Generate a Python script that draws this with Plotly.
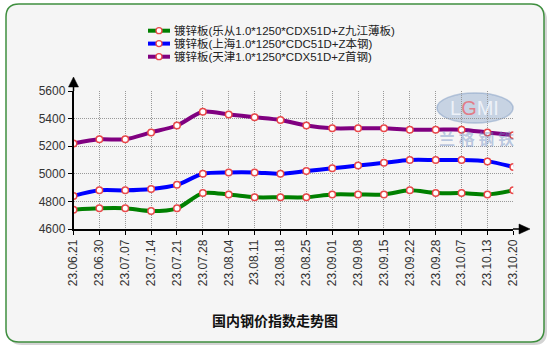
import plotly.graph_objects as go

W, H = 551, 351

dates = ["23.06.21", "23.06.30", "23.07.07", "23.07.14", "23.07.21", "23.07.28",
         "23.08.04", "23.08.11", "23.08.18", "23.08.25", "23.09.01", "23.09.08",
         "23.09.15", "23.09.22", "23.09.28", "23.10.07", "23.10.13", "23.10.20"]

lecong = [4740, 4750, 4750, 4730, 4750, 4860, 4850, 4830, 4830, 4830, 4850, 4850,
          4850, 4880, 4860, 4860, 4850, 4880]
shanghai = [4840, 4880, 4880, 4890, 4920, 5000, 5010, 5010, 5000, 5020, 5040, 5060,
            5080, 5100, 5100, 5100, 5090, 5050]
tianjin = [5220, 5250, 5250, 5300, 5350, 5450, 5430, 5410, 5390, 5350, 5330, 5330,
           5330, 5320, 5320, 5320, 5300, 5280]

names = ["镀锌板(乐从1.0*1250*CDX51D+Z九江薄板)",
         "镀锌板(上海1.0*1250*CDC51D+Z本钢)",
         "镀锌板(天津1.0*1250*CDX51D+Z首钢)"]
colors = ["#008000", "#0000FF", "#800080"]
series = [lecong, shanghai, tianjin]

yticks = [4600, 4800, 5000, 5200, 5400, 5600]
title_text = "国内钢价指数走势图"


def px(x):
    return x / W


def py(y):
    return 1 - y / H


def rrect(x0, y0, x1, y1, r):
    pts = [
        f"M {px(x0 + r)},{py(y0)}",
        f"L {px(x1 - r)},{py(y0)}",
        f"Q {px(x1)},{py(y0)} {px(x1)},{py(y0 + r)}",
        f"L {px(x1)},{py(y1 - r)}",
        f"Q {px(x1)},{py(y1)} {px(x1 - r)},{py(y1)}",
        f"L {px(x0 + r)},{py(y1)}",
        f"Q {px(x0)},{py(y1)} {px(x0)},{py(y1 - r)}",
        f"L {px(x0)},{py(y0 + r)}",
        f"Q {px(x0)},{py(y0)} {px(x0 + r)},{py(y0)}",
        "Z",
    ]
    return " ".join(pts)


fig = go.Figure()

for name, vals, col in zip(names, series, colors):
    fig.add_trace(go.Scatter(
        x=dates, y=vals, name=name, mode="lines+markers",
        line=dict(color=col, width=4, shape="spline", smoothing=0.8),
        marker=dict(symbol="circle", size=6.5, color="white",
                    line=dict(color="#E8484A", width=1.5)),
        showlegend=False,
    ))

shapes = []
# shadow + frame
shapes.append(dict(type="path", xref="paper", yref="paper", layer="below",
                   path=rrect(9, 7, 547, 345, 13), fillcolor="#d4d4d4",
                   line=dict(width=0)))
shapes.append(dict(type="path", xref="paper", yref="paper", layer="below",
                   path=rrect(6, 4, 544, 342, 13), fillcolor="#F5F5F5",
                   line=dict(color="#3f8f3f", width=1.5)))
# watermark ellipse
shapes.append(dict(type="circle", xref="paper", yref="paper", layer="below",
                   x0=px(437), x1=px(513), y0=py(123), y1=py(93),
                   fillcolor="rgba(160,182,212,0.55)",
                   line=dict(color="rgba(140,165,200,0.6)", width=1.5)))
# axis extensions and arrows
x_axis_y = 229
y_axis_x = 73.5
shapes.append(dict(type="line", xref="paper", yref="paper",
                   x0=px(513), x1=px(520), y0=py(x_axis_y), y1=py(x_axis_y),
                   line=dict(color="black", width=1.5)))
shapes.append(dict(type="path", xref="paper", yref="paper",
                   path=f"M {px(519)},{py(x_axis_y - 5)} L {px(530)},{py(x_axis_y)} "
                        f"L {px(519)},{py(x_axis_y + 5)} Z",
                   fillcolor="black", line=dict(color="black", width=0.5)))
shapes.append(dict(type="line", xref="paper", yref="paper",
                   x0=px(y_axis_x), x1=px(y_axis_x), y0=py(91), y1=py(86),
                   line=dict(color="black", width=1.5)))
shapes.append(dict(type="path", xref="paper", yref="paper",
                   path=f"M {px(y_axis_x - 5)},{py(87)} L {px(y_axis_x)},{py(77)} "
                        f"L {px(y_axis_x + 5)},{py(87)} Z",
                   fillcolor="black", line=dict(color="black", width=0.5)))

annotations = []
# legend (manual, compact)
leg_y = [30.7, 43.6, 56.7]
for name, col, ly in zip(names, colors, leg_y):
    shapes.append(dict(type="line", xref="paper", yref="paper",
                       x0=px(148), x1=px(170), y0=py(ly), y1=py(ly),
                       line=dict(color=col, width=4)))
    shapes.append(dict(type="circle", xref="paper", yref="paper",
                       x0=px(156), x1=px(162), y0=py(ly + 3), y1=py(ly - 3),
                       fillcolor="white", line=dict(color="#E8484A", width=1.3)))
    annotations.append(dict(xref="paper", yref="paper", x=px(172), y=py(ly),
                            xanchor="left", yanchor="middle", showarrow=False,
                            text=name,
                            font=dict(size=11.5, color="#222222",
                                      family="Liberation Sans, Noto Sans CJK SC")))

# watermark text
annotations.append(dict(xref="paper", yref="paper", x=px(475), y=py(108),
                        xanchor="center", yanchor="middle", showarrow=False,
                        text="L<span style='color:rgba(230,110,120,0.9)'>G</span>MI",
                        font=dict(size=20, color="rgba(240,244,250,0.95)",
                                  family="Liberation Sans")))
annotations.append(dict(xref="paper", yref="paper", x=px(476), y=py(138),
                        xanchor="center", yanchor="middle", showarrow=False,
                        text="<b>兰 格 钢 铁</b>",
                        font=dict(size=16, color="rgba(110,140,195,0.45)",
                                  family="Noto Sans CJK SC")))
# title
annotations.append(dict(xref="paper", yref="paper", x=px(275), y=py(320),
                        xanchor="center", yanchor="middle", showarrow=False,
                        text=f"<b>{title_text}</b>",
                        font=dict(size=14, color="#111111", family="Noto Sans CJK SC")))

grid_style = dict(showgrid=True, gridcolor="#999999", griddash="1px,1px", gridwidth=1)

fig.update_layout(
    width=W, height=H,
    margin=dict(l=0, r=0, t=0, b=0, autoexpand=False),
    paper_bgcolor="white",
    plot_bgcolor="rgba(0,0,0,0)",
    shapes=shapes,
    annotations=annotations,
    xaxis=dict(
        domain=[px(73.5), px(513.3)],
        type="category", range=[0, 17],
        automargin=False,
        showline=True, linecolor="black", linewidth=1.5,
        ticks="outside", ticklen=4, tickcolor="black", tickwidth=1,
        tickangle=-90,
        tickfont=dict(size=12, color="#333333", family="Liberation Sans"),
        zeroline=False, fixedrange=True,
        **grid_style,
    ),
    yaxis=dict(
        domain=[py(229), py(91)],
        range=[4600, 5600],
        automargin=False,
        tickvals=yticks,
        showline=True, linecolor="black", linewidth=1.5,
        ticks="outside", ticklen=4, tickcolor="black", tickwidth=1,
        tickfont=dict(size=12, color="#333333", family="Liberation Sans"),
        zeroline=False, fixedrange=True,
        **grid_style,
    ),
)

fig.write_html("out.html")
